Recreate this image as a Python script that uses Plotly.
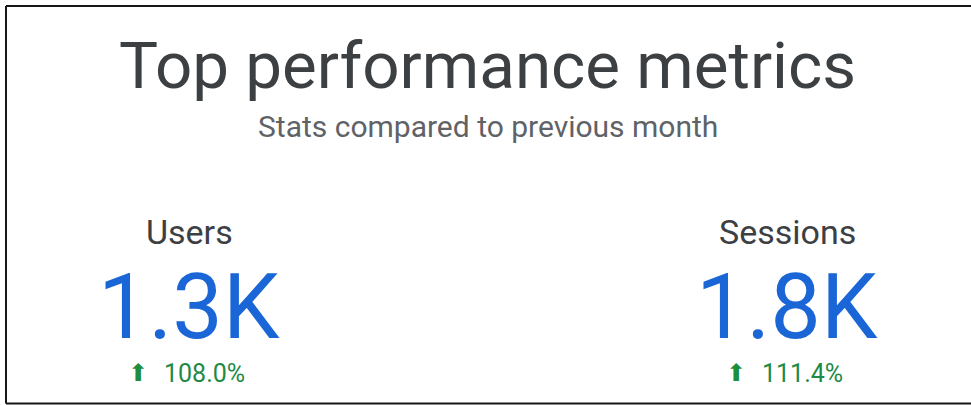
import plotly.graph_objects as go

title = "Top performance metrics"
subtitle = "Stats compared to previous month"
metrics = ["Users", "Sessions"]
values_k = [1.3, 1.8]
changes_pct = [108.0, 111.4]
centers_px = [189, 787]

W, H = 971, 405

def px_x(x):
    return x / W

def px_y(y):
    return 1 - y / H

fig = go.Figure()
font = "Roboto"
ann = []
ann.append(dict(text=title, x=px_x(488), y=px_y(65), font=dict(family=font, size=65.5, color="#3c4043")))
ann.append(dict(text=subtitle, x=px_x(488), y=px_y(127), font=dict(family=font, size=30, color="#5f6368")))
for m, v, c, cx in zip(metrics, values_k, changes_pct, centers_px):
    ann.append(dict(text=m, x=px_x(cx), y=px_y(232), font=dict(family=font, size=34, color="#3c4043")))
    ann.append(dict(text=f"{v:.1f}K", x=px_x(cx), y=px_y(307), font=dict(family=font, size=90, color="#1a66d6")))
    ann.append(dict(text="⬆", x=px_x(cx - 51), y=px_y(373), font=dict(family="DejaVu Sans", size=24, color="#1e8e3e")))
    ann.append(dict(text=f"{c:.1f}%", x=px_x(cx + 15), y=px_y(373), font=dict(family=font, size=25, color="#1e8a45")))

for a in ann:
    a.update(xref="paper", yref="paper", showarrow=False, xanchor="center", yanchor="middle")

line_style = dict(color="#161616", width=2)
shapes = [
    dict(type="line", xref="paper", yref="paper", x0=px_x(6), x1=1, y0=px_y(6), y1=px_y(6), line=line_style),
    dict(type="line", xref="paper", yref="paper", x0=px_x(6), x1=px_x(6), y0=px_y(6), y1=px_y(403.5), line=line_style),
    dict(type="line", xref="paper", yref="paper", x0=px_x(6), x1=1, y0=px_y(403.5), y1=px_y(403.5), line=line_style),
]

fig.update_layout(
    width=W, height=H,
    margin=dict(l=0, r=0, t=0, b=0),
    paper_bgcolor="white", plot_bgcolor="white",
    xaxis=dict(visible=False), yaxis=dict(visible=False),
    annotations=ann,
    shapes=shapes,
    showlegend=False,
)
fig.write_html("out.html", config={"displayModeBar": False},
               post_script="document.body.style.margin='0';document.body.style.overflow='hidden';")
